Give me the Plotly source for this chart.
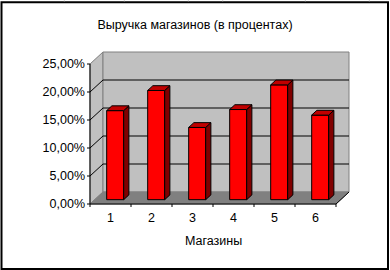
import plotly.graph_objects as go

# ---- data ----
stores = [1, 2, 3, 4, 5, 6]
shares = [15.9, 19.5, 12.9, 16.1, 20.5, 15.1]          # percent
y_ticks = [0, 5, 10, 15, 20, 25]
y_tick_labels = ["0,00%", "5,00%", "10,00%", "15,00%", "20,00%", "25,00%"]
x_tick_labels = ["1", "2", "3", "4", "5", "6"]
title_text = "Выручка магазинов (в процентах)"
x_title = "Магазины"

# ---- geometry (pseudo 3-D projection) ----
W, H = 390, 270
PX_CAT = 41.0        # pixels per category
PX_PCT = 5.6         # pixels per percent
WALL_DX = 13 / PX_CAT
WALL_DY = 12 / PX_PCT
BAR_D0, BAR_D1 = 0.36, 0.76
BAR_W = 17 / PX_CAT
PAD = 4
L, R, T, B = 86, 37, 48, 62

x_lo, x_hi = 0.5, len(stores) + 0.5
y_hi = max(y_ticks)
xr = [x_lo - PAD / PX_CAT, x_hi + WALL_DX + PAD / PX_CAT]
yr = [-PAD / PX_PCT, y_hi + WALL_DY + PAD / PX_PCT]

def pw(x, y, d):
    return x + d * WALL_DX, y + d * WALL_DY

def path(pts):
    return "M " + " L ".join(f"{x},{y}" for x, y in pts) + " Z"

def ppx(px):
    return (px - L) / (W - L - R)

def ppy(py):
    return (H - B - py) / (H - T - B)

WALL = "#c0c0c0"
EDGE = "#808080"
FLOOR = "#808080"

shapes = []
# side wall
shapes.append(dict(type="path", xref="x", yref="y", layer="below",
                   path=path([pw(x_lo, 0, 0), pw(x_lo, 0, 1), pw(x_lo, y_hi, 1), pw(x_lo, y_hi, 0)]),
                   fillcolor=WALL, line=dict(color=EDGE, width=1)))
# back wall
shapes.append(dict(type="path", xref="x", yref="y", layer="below",
                   path=path([pw(x_lo, 0, 1), pw(x_hi, 0, 1), pw(x_hi, y_hi, 1), pw(x_lo, y_hi, 1)]),
                   fillcolor=WALL, line=dict(color=EDGE, width=1)))
# floor
shapes.append(dict(type="path", xref="x", yref="y", layer="below",
                   path=path([pw(x_lo, 0, 0), pw(x_hi, 0, 0), pw(x_hi, 0, 1), pw(x_lo, 0, 1)]),
                   fillcolor=FLOOR, line=dict(color=FLOOR, width=1)))
# gridlines
for v in y_ticks[1:-1]:
    a, b, c = pw(x_lo, v, 0), pw(x_lo, v, 1), pw(x_hi, v, 1)
    shapes.append(dict(type="path", xref="x", yref="y", layer="below",
                       path=f"M {a[0]},{a[1]} L {b[0]},{b[1]} L {c[0]},{c[1]}",
                       line=dict(color="black", width=1)))
# value axis line + ticks
shapes.append(dict(type="line", xref="x", yref="y", layer="below",
                   x0=x_lo, y0=0, x1=x_lo, y1=y_hi, line=dict(color="black", width=1)))
for v in y_ticks:
    shapes.append(dict(type="line", xref="x", yref="y", layer="below",
                       x0=x_lo - 3 / PX_CAT, y0=v, x1=x_lo, y1=v, line=dict(color="black", width=1)))
# category axis line + right floor edge + ticks
shapes.append(dict(type="line", xref="x", yref="y", layer="below",
                   x0=x_lo, y0=0, x1=x_hi, y1=0, line=dict(color="black", width=1)))
e0, e1 = pw(x_hi, 0, 0), pw(x_hi, 0, 1)
shapes.append(dict(type="line", xref="x", yref="y", layer="below",
                   x0=e0[0], y0=e0[1], x1=e1[0], y1=e1[1], line=dict(color="black", width=1)))
for k in range(len(stores) + 1):
    bx = x_lo + k
    shapes.append(dict(type="line", xref="x", yref="y", layer="below",
                       x0=bx, y0=0, x1=bx, y1=-3 / PX_PCT, line=dict(color="black", width=1)))

# chart-area border and spreadsheet gridlines around it
shapes.append(dict(type="rect", xref="paper", yref="paper",
                   x0=ppx(1.5), y0=ppy(269), x1=ppx(388), y1=ppy(2.3),
                   line=dict(color="black", width=2), fillcolor="rgba(0,0,0,0)"))
for gx in [64.3, 124.3, 188.3, 222.7, 305.3, 369.3]:
    shapes.append(dict(type="line", xref="paper", yref="paper",
                       x0=ppx(gx), y0=ppy(0), x1=ppx(gx), y1=ppy(1.3),
                       line=dict(color="#d4d4d4", width=1)))

fig = go.Figure()

# bar front faces
fx = [c + BAR_D0 * WALL_DX for c in stores]
fig.add_trace(go.Bar(x=fx, y=shares, base=BAR_D0 * WALL_DY, width=BAR_W,
                     marker=dict(color="#ff0000", line=dict(color="black", width=1)),
                     hoverinfo="skip", showlegend=False))

# bar top and side faces
ddx = (BAR_D1 - BAR_D0) * WALL_DX
ddy = (BAR_D1 - BAR_D0) * WALL_DY
for cx, v in zip(fx, shares):
    xl, xrr = cx - BAR_W / 2, cx + BAR_W / 2
    y0, y1 = BAR_D0 * WALL_DY, BAR_D0 * WALL_DY + v
    top = [(xl, y1), (xrr, y1), (xrr + ddx, y1 + ddy), (xl + ddx, y1 + ddy), (xl, y1)]
    side = [(xrr, y0), (xrr, y1), (xrr + ddx, y1 + ddy), (xrr + ddx, y0 + ddy), (xrr, y0)]
    for pts, col in [(side, "#800000"), (top, "#c00000")]:
        fig.add_trace(go.Scatter(x=[p[0] for p in pts], y=[p[1] for p in pts],
                                 mode="lines", fill="toself", fillcolor=col,
                                 line=dict(color="black", width=1),
                                 hoverinfo="skip", showlegend=False))

fig.add_annotation(text=x_title, xref="paper", yref="paper",
                   x=ppx(213), y=ppy(241), xanchor="center", yanchor="middle",
                   showarrow=False, font=dict(size=12.5, color="black"))

fig.update_layout(
    width=W, height=H,
    margin=dict(l=L, r=R, t=T, b=B),
    paper_bgcolor="white", plot_bgcolor="white",
    font=dict(family="Liberation Sans, Arial, sans-serif", size=12.5, color="black"),
    title=dict(text=title_text, x=0.5, xanchor="center", y=1 - 25 / H, yanchor="middle",
               font=dict(size=12.5, color="black")),
    barmode="overlay",
    shapes=shapes,
    xaxis=dict(range=xr, tickvals=stores, ticktext=x_tick_labels, ticks="",
               showgrid=False, zeroline=False, showline=False, fixedrange=True),
    yaxis=dict(range=yr, tickvals=y_ticks, ticktext=y_tick_labels, ticks="",
               showgrid=False, zeroline=False, showline=False, fixedrange=True),
)

fig.write_html("out.html")
